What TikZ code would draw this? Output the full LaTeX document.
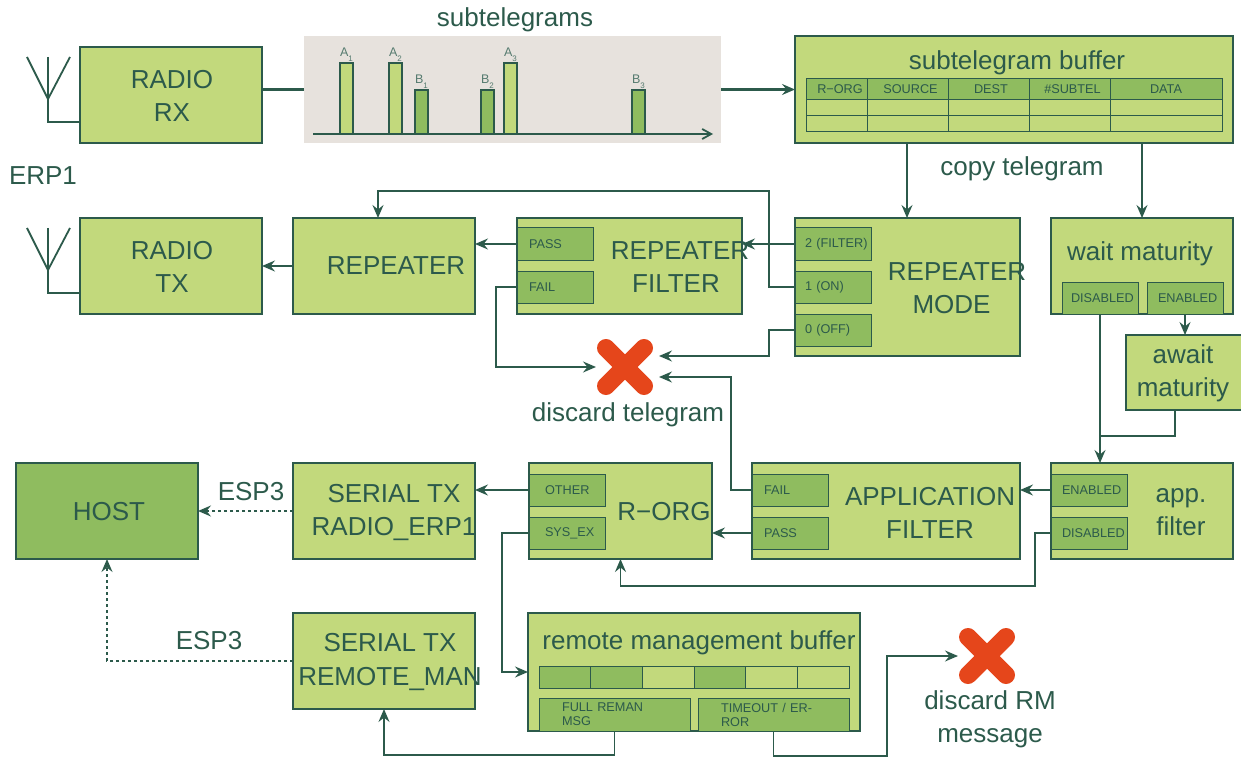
\documentclass[tikz,border=0pt]{standalone}
\usepackage{fontspec}
\setmainfont{Liberation Sans}
\usetikzlibrary{arrows.meta}
\definecolor{ink}{HTML}{2C5A4B}
\definecolor{lightgreen}{HTML}{C2D97C}
\definecolor{darkgreen}{HTML}{8FBC5F}
\definecolor{paper}{HTML}{E7E2DD}
\definecolor{crossred}{HTML}{E5461B}
\newcommand{\burstsub}[1]{\raisebox{-5pt}{\fontsize{8}{8}\selectfont #1}}
\tikzset{
	every node/.style={text=ink,inner sep=0pt,outer sep=0pt},
	lbl/.style={font=\fontsize{26}{33}\selectfont,align=center,yshift=-3pt},
	box/.style={draw=ink,line width=2.5pt,fill=lightgreen,anchor=north west},
	subbox/.style={draw=ink,line width=1pt,fill=darkgreen,anchor=north west,minimum width=76pt,minimum height=32pt,inner xsep=#1,text width={76pt-2*#1},align=left,font=\fontsize{12.7}{14}\selectfont},
	subbox/.default=12pt,
	cell/.style={draw=ink,line width=1pt,fill=lightgreen,anchor=north west,minimum height=16pt,font=\fontsize{12.7}{14}\selectfont},
	headcell/.style={cell,fill=darkgreen,minimum height=21pt},
	burst/.style={draw=ink,line width=1.5pt,anchor=south west,minimum width=13pt,label={[font=\fontsize{12.5}{14}\selectfont,text=ink!80,yshift=1pt]above:#1}},
	crossmark/.style={minimum size=58pt,path picture={
		\draw[crossred,line width=18pt,line cap=round] ([shift={(10pt,-10pt)}]path picture bounding box.north west) -- ([shift={(-10pt,10pt)}]path picture bounding box.south east);
		\draw[crossred,line width=18pt,line cap=round] ([shift={(-10pt,-10pt)}]path picture bounding box.north east) -- ([shift={(10pt,10pt)}]path picture bounding box.south west);
	}},
	conn/.style={draw=ink,line width=1.8pt},
	arrow/.style={conn,-{Stealth[length=13pt,width=11pt,inset=4.5pt]}},
	dotarrow/.style={arrow,dash pattern=on 3pt off 3pt}
}
\begin{document}
\begin{tikzpicture}[x=1pt,y=-1pt]
	\useasboundingbox (0,0) rectangle (1241,759);

	\node[lbl] (subtitle) at (515,17) {subtelegrams};
	\node[lbl] (erplabel) at (43,173) {ERP1};
	\node[lbl] (copylabel) at (1022,166) {copy telegram};
	\node[lbl] (esptop) at (251,489) {ESP3};
	\node[lbl] (espbottom) at (209,638) {ESP3};

	\node[box,minimum width=182pt,minimum height=96pt] (radiorx) at (80,47) {};
	\node[lbl] (radiorxtext) at (172,93) {RADIO\\RX};
	\node[box,minimum width=182pt,minimum height=96pt] (radiotx) at (80,218) {};
	\node[lbl] (radiotxtext) at (172,264) {RADIO\\TX};
	\node[box,minimum width=182pt,minimum height=96pt] (repeater) at (293,218) {};
	\node[lbl] (repeatertext) at (396,263) {REPEATER};

	\node[fill=paper,anchor=north west,minimum width=417pt,minimum height=107pt] (telegrams) at (304,36) {};
	\node[burst={A\burstsub{1}},fill=lightgreen,minimum height=71pt] (aone) at (340,134) {};
	\node[burst={A\burstsub{2}},fill=lightgreen,minimum height=71pt] (atwo) at (389,134) {};
	\node[burst={B\burstsub{1}},fill=darkgreen,minimum height=44pt] (bone) at (415,134) {};
	\node[burst={B\burstsub{2}},fill=darkgreen,minimum height=44pt] (btwo) at (481,134) {};
	\node[burst={A\burstsub{3}},fill=lightgreen,minimum height=71pt] (athree) at (504,134) {};
	\node[burst={B\burstsub{3}},fill=darkgreen,minimum height=44pt] (bthree) at (632,134) {};
	\coordinate (timestart) at (313,134);
	\coordinate (timeend) at (713,134);
	\draw[conn,-{Straight Barb[length=9pt,width=10pt]}] (timestart) -- (timeend);

	\node[box,minimum width=438pt,minimum height=107pt] (subbuf) at (795,36) {};
	\node[lbl] (subbuftext) at (1017,60) {subtelegram buffer};
	\node[headcell,minimum width=61pt] (hrorg) at (806,79) {\hspace*{7pt}R−ORG};
	\node[headcell,minimum width=81pt] (hsource) at (867,79) {\hspace*{6pt}SOURCE};
	\node[headcell,minimum width=81pt] (hdest) at (948,79) {\hspace*{5pt}DEST};
	\node[headcell,minimum width=81pt] (hsubtel) at (1029,79) {\hspace*{6pt}\#SUBTEL};
	\node[headcell,minimum width=112pt] (hdata) at (1110,79) {DATA};
	\node[cell,minimum width=61pt] (aa) at (806,100) {};
	\node[cell,minimum width=81pt] (ab) at (867,100) {};
	\node[cell,minimum width=81pt] (ac) at (948,100) {};
	\node[cell,minimum width=81pt] (ad) at (1029,100) {};
	\node[cell,minimum width=112pt] (ae) at (1110,100) {};
	\node[cell,minimum width=61pt] (ba) at (806,116) {};
	\node[cell,minimum width=81pt] (bb) at (867,116) {};
	\node[cell,minimum width=81pt] (bc) at (948,116) {};
	\node[cell,minimum width=81pt] (bd) at (1029,116) {};
	\node[cell,minimum width=112pt] (be) at (1110,116) {};

	\node[box,minimum width=225pt,minimum height=96pt] (repfilter) at (517,218) {};
	\node[subbox] (rfpass) at (517,228) {PASS};
	\node[subbox] (rffail) at (517,271) {FAIL};
	\node[lbl] (repfiltertext) at (680,264) {REPEATER\\FILTER\hspace*{8pt}};

	\node[box,minimum width=225pt,minimum height=138pt] (repmode) at (795,218) {};
	\node[subbox=10pt] (rmfilter) at (795,228) {\mbox{2 (FILTER)}};
	\node[subbox=10pt] (rmon) at (795,271) {1 (ON)};
	\node[subbox=10pt] (rmoff) at (795,314) {0 (OFF)};
	\node[lbl] (repmodetext) at (957,285) {REPEATER\\MODE\hspace*{11pt}};

	\node[box,minimum width=182pt,minimum height=96pt] (waitmat) at (1051,218) {};
	\node[lbl] (waitmattext) at (1140,251) {wait maturity};
	\node[subbox=9pt] (wmdisabled) at (1062,282) {DISABLED};
	\node[subbox=11pt] (wmenabled) at (1147,282) {ENABLED};
	\node[box,minimum width=120pt,minimum height=75pt] (awaitmat) at (1126,335) {};
	\node[lbl] (awaittext) at (1183,370) {await\\maturity};

	\node[crossmark] (discard) at (625,367) {};
	\node[lbl] (discardtext) at (628,412) {discard telegram};

	\node[box,fill=darkgreen,minimum width=182pt,minimum height=96pt] (host) at (16,463) {};
	\node[lbl] (hosttext) at (109,509) {HOST};
	\node[box,minimum width=182pt,minimum height=96pt] (serialerp) at (293,463) {};
	\node[lbl] (serialerptext) at (394,510) {SERIAL TX\\RADIO\_ERP1};

	\node[box,minimum width=183pt,minimum height=96pt] (rorg) at (529,463) {};
	\node[subbox=16pt] (other) at (529,474) {OTHER};
	\node[subbox=16pt] (sysex) at (529,517) {SYS\_EX};
	\node[lbl] (rorgtext) at (664,509) {R−ORG};

	\node[box,minimum width=268pt,minimum height=96pt] (appfilter) at (752,463) {};
	\node[subbox] (affail) at (752,474) {FAIL};
	\node[subbox] (afpass) at (752,517) {PASS};
	\node[lbl] (appfiltertext) at (930,510) {APPLICATION\\FILTER};

	\node[box,minimum width=182pt,minimum height=96pt] (appflag) at (1051,463) {};
	\node[subbox=11pt] (apenabled) at (1051,474) {ENABLED};
	\node[subbox=11pt] (apdisabled) at (1051,517) {DISABLED};
	\node[lbl] (appflagtext) at (1181,509) {app.\\filter};

	\node[box,minimum width=182pt,minimum height=96pt] (serialrm) at (293,613) {};
	\node[lbl] (serialrmtext) at (390,659) {SERIAL TX\\REMOTE\_MAN};

	\node[box,minimum width=332pt,minimum height=118pt] (rmbuf) at (528,613) {};
	\node[lbl] (rmbuftext) at (699,640) {remote management buffer};
	\node[cell,fill=darkgreen,minimum width=51.7pt,minimum height=22pt] (slotone) at (539,666) {};
	\node[cell,fill=darkgreen,minimum width=51.7pt,minimum height=22pt] (slottwo) at (590.7,666) {};
	\node[cell,minimum width=51.7pt,minimum height=22pt] (slotthree) at (642.4,666) {};
	\node[cell,fill=darkgreen,minimum width=51.7pt,minimum height=22pt] (slotfour) at (694.1,666) {};
	\node[cell,minimum width=51.7pt,minimum height=22pt] (slotfive) at (745.8,666) {};
	\node[cell,minimum width=51.7pt,minimum height=22pt] (slotsix) at (797.5,666) {};
	\node[subbox=23pt,minimum width=151pt,minimum height=33pt,text width=105pt] (fullmsg) at (539,698) {FULL REMAN MSG};
	\node[subbox=23pt,minimum width=151pt,minimum height=33pt,text width=105pt] (timeout) at (698,698) {TIMEOUT / ERROR};

	\node[crossmark] (discardrm) at (987,656) {};
	\node[lbl] (discardrmtext) at (990,716) {discard RM\\message};

	\draw[conn] (27,57) -- (48,99) -- (70,57);
	\draw[conn] (48,57) |- (radiorx.west |- 80,122);
	\draw[conn] (27,228) -- (48,270) -- (70,228);
	\draw[conn] (48,228) |- (radiotx.west |- 80,293);

	\coordinate (onbend) at (769,191);
	\coordinate (offbend) at (769,356);
	\coordinate (offend) at (659,356);
	\coordinate (failbend) at (496,367);
	\coordinate (appfailbend) at (731,377);
	\coordinate (appfailend) at (659,377);
	\coordinate (awaitout) at (1175,410);
	\coordinate (matjoin) at (1100,436);
	\coordinate (disbend) at (1035,586);
	\coordinate (sysbend) at (502,672);
	\coordinate (fullbend) at (384,755);
	\coordinate (timebend) at (887,756);
	\coordinate (hostbend) at (107,661);

	\draw[conn,line width=2.4pt] (radiorx.east |- telegrams.west) -- (telegrams.west);
	\draw[arrow,line width=2.4pt] (telegrams.east) -- (subbuf.west);
	\draw[arrow] (907,143) -- (907,218);
	\draw[arrow] (1142,143) -- (waitmat.north);
	\draw[arrow] (rmfilter.west) -- (repfilter.east |- rmfilter.west);
	\draw[arrow] (rfpass.west) -- (repeater.east |- rfpass.west);
	\draw[arrow] (repeater.west) -- (radiotx.east |- repeater.west);
	\draw[arrow] (rmon.west) -| (onbend) -| ([xshift=-6pt]repeater.north);
	\draw[arrow] (rmoff.west) -| (offbend) -- (offend);
	\draw[arrow] (rffail.west) -| (failbend) -- (discard.west);
	\draw[arrow] (affail.west) -| (appfailbend) -- (appfailend);
	\draw[arrow] (wmenabled.south) -- (wmenabled.south |- awaitmat.north);
	\draw[arrow] (wmdisabled.south) -- (wmdisabled.south |- appflag.north);
	\draw[conn] (awaitout) |- (matjoin);
	\draw[arrow] (apenabled.west) -- (appfilter.east |- apenabled.west);
	\draw[arrow] (afpass.west) -- (rorg.east |- afpass.west);
	\draw[arrow] (other.west) -- (serialerp.east |- other.west);
	\draw[arrow] (apdisabled.west) -| (disbend) -| (rorg.south);
	\draw[arrow] (sysex.west) -| (sysbend) -- (rmbuf.west);
	\draw[arrow] (fullmsg.south) |- (fullbend) -- (serialrm.south);
	\draw[arrow] (timeout.south) |- (timebend) |- (discardrm.west);
	\draw[dotarrow] (serialerp.west) -- (host.east);
	\draw[dotarrow] (serialrm.west |- hostbend) -- (hostbend) -- (host.south);
\end{tikzpicture}
\end{document}
